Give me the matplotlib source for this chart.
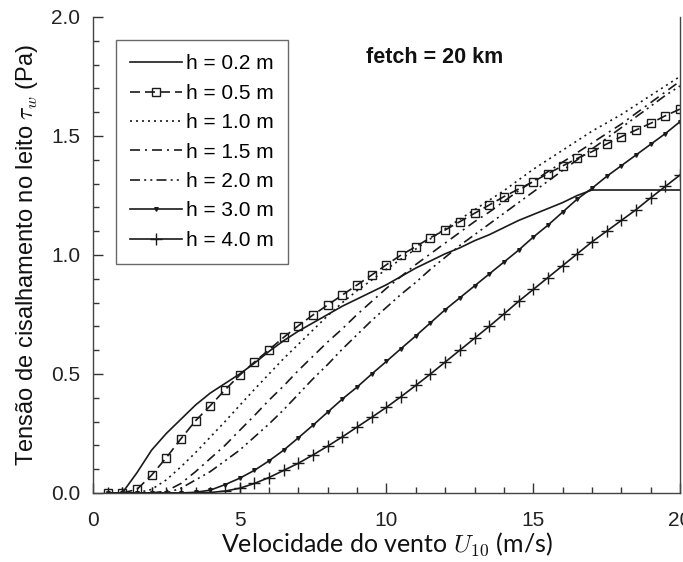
import numpy as np
import matplotlib
matplotlib.use("Agg")
import matplotlib.pyplot as plt
from matplotlib.ticker import MultipleLocator

plt.rcParams['mathtext.fontset'] = 'cm'

U = [0.5, 1.0, 1.5, 2.0, 2.5, 3.0, 3.5, 4.0, 4.5, 5.0, 5.5, 6.0, 6.5, 7.0, 7.5, 8.0,
     8.5, 9.0, 9.5, 10.0, 10.5, 11.0, 11.5, 12.0, 12.5, 13.0, 13.5, 14.0, 14.5, 15.0,
     15.5, 16.0, 16.5, 17.0, 17.5, 18.0, 18.5, 19.0, 19.5, 20.0]

tau_h02 = [0, 0, 0.085, 0.18, 0.25, 0.31, 0.37, 0.42, 0.46, 0.50, 0.545, 0.595, 0.64,
           0.68, 0.715, 0.75, 0.785, 0.815, 0.845, 0.875, 0.91, 0.945, 0.975, 1.005,
           1.03, 1.06, 1.085, 1.115, 1.145, 1.17, 1.195, 1.22, 1.25, 1.273, 1.273,
           1.273, 1.273, 1.273, 1.273, 1.273]
tau_h05 = [0, 0, 0.015, 0.075, 0.148, 0.228, 0.304, 0.367, 0.433, 0.495, 0.55, 0.602,
           0.654, 0.703, 0.748, 0.79, 0.832, 0.874, 0.916, 0.959, 1.0, 1.035, 1.073,
           1.105, 1.14, 1.175, 1.21, 1.245, 1.277, 1.308, 1.342, 1.374, 1.406, 1.434,
           1.466, 1.497, 1.525, 1.553, 1.585, 1.613]
tau_h10 = [0, 0, 0, 0.015, 0.055, 0.11, 0.17, 0.235, 0.30, 0.368, 0.435, 0.50, 0.565,
           0.625, 0.685, 0.745, 0.80, 0.85, 0.895, 0.94, 0.983, 1.025, 1.068, 1.11,
           1.15, 1.19, 1.23, 1.27, 1.315, 1.36, 1.40, 1.44, 1.48, 1.52, 1.555, 1.59,
           1.63, 1.67, 1.71, 1.75]
tau_h15 = [0, 0, 0, 0, 0.008, 0.04, 0.09, 0.145, 0.20, 0.263, 0.325, 0.39, 0.45,
           0.515, 0.575, 0.635, 0.69, 0.75, 0.805, 0.86, 0.91, 0.96, 1.005, 1.05,
           1.095, 1.14, 1.18, 1.225, 1.27, 1.31, 1.35, 1.39, 1.43, 1.47, 1.51, 1.55,
           1.595, 1.64, 1.685, 1.73]
tau_h20 = [0, 0, 0, 0, 0, 0.02, 0.055, 0.09, 0.135, 0.18, 0.235, 0.29, 0.35, 0.415,
           0.48, 0.54, 0.605, 0.665, 0.725, 0.78, 0.835, 0.885, 0.94, 0.99, 1.04,
           1.085, 1.13, 1.175, 1.22, 1.265, 1.31, 1.355, 1.40, 1.445, 1.49, 1.535,
           1.58, 1.625, 1.67, 1.71]
tau_h30 = [0, 0, 0, 0, 0, 0, 0.003, 0.012, 0.035, 0.062, 0.095, 0.135, 0.18, 0.232,
           0.285, 0.34, 0.395, 0.445, 0.50, 0.553, 0.607, 0.66, 0.715, 0.77, 0.82,
           0.87, 0.92, 0.97, 1.02, 1.075, 1.125, 1.18, 1.235, 1.28, 1.33, 1.375, 1.42,
           1.465, 1.51, 1.56]
tau_h40 = [0, 0, 0, 0, 0, 0, 0, 0.002, 0.008, 0.02, 0.04, 0.065, 0.095, 0.125, 0.16,
           0.197, 0.236, 0.277, 0.318, 0.36, 0.405, 0.452, 0.50, 0.55, 0.60, 0.65,
           0.70, 0.752, 0.805, 0.855, 0.905, 0.955, 1.005, 1.055, 1.10, 1.145, 1.19,
           1.24, 1.288, 1.336]

labels = ["h = 0.2 m", "h = 0.5 m", "h = 1.0 m", "h = 1.5 m", "h = 2.0 m",
          "h = 3.0 m", "h = 4.0 m"]
xticks = [0, 5, 10, 15, 20]
yticks = [0.0, 0.5, 1.0, 1.5, 2.0]

fig = plt.figure(figsize=(6.83, 5.62), dpi=100)
ax = fig.add_axes([0.136, 0.1228, 0.8596, 0.847])

c = '#1a1a1a'
lw = 1.2
ax.plot(U, tau_h02, color=c, lw=lw, ls='-', label=labels[0])
ax.plot(U, tau_h05, color=c, lw=lw, ls=(0, (6, 3)), marker='s', ms=5.5,
        mfc='none', mec=c, mew=1.0, label=labels[1])
ax.plot(U, tau_h10, color=c, lw=lw, ls=(0, (1.2, 2.4)), label=labels[2])
ax.plot(U, tau_h15, color=c, lw=lw, ls=(0, (6, 3, 1.2, 3)), label=labels[3])
ax.plot(U, tau_h20, color=c, lw=lw, ls=(0, (6, 2.5, 1.2, 2.5, 1.2, 2.5)), label=labels[4])
ax.plot(U, tau_h30, color=c, lw=lw, ls='-', marker='v', ms=2.6, mfc=c, mec=c,
        label=labels[5])
ax.plot(U, tau_h40, color=c, lw=lw, ls='-', marker='+', ms=8, mew=1.0, mec=c,
        label=labels[6])

ax.set_xlim(0, 20)
ax.set_ylim(0, 2.0)
ax.set_xticks(xticks)
ax.set_yticks(yticks)
ax.set_xticklabels([str(t) for t in xticks])
ax.set_yticklabels([f"{t:.1f}" for t in yticks])
ax.xaxis.set_minor_locator(MultipleLocator(1))
ax.yaxis.set_minor_locator(MultipleLocator(0.1))
ax.tick_params(which='both', direction='in', top=False, right=False,
               colors='#333333', labelcolor='#222222')
ax.tick_params(which='major', length=7, width=1, labelsize=15)
ax.tick_params(axis='x', which='major', pad=13)
ax.tick_params(axis='y', which='major', pad=9)
ax.tick_params(which='minor', length=4, width=1)
for lab in ax.get_xticklabels() + ax.get_yticklabels():
    lab.set_family('Liberation Sans')
for name, s in ax.spines.items():
    s.set_color('#444444')
    s.set_linewidth(1.0)
ax.spines['top'].set_visible(False)

ax.set_xlabel(r"Velocidade do vento $U_{10}$ (m/s)", fontsize=18, family='Lato',
              color='#111111', labelpad=0)
ax.set_ylabel(r"Tensão de cisalhamento no leito $\tau_w$ (Pa)", fontsize=17,
              family='Liberation Sans', color='#111111', labelpad=8)

ax.text(11.65, 1.83, "fetch = 20 km", fontsize=15.5, fontweight='bold',
        family='Liberation Sans', ha='center', va='center', color='#111111')

leg = ax.legend(loc='upper left', bbox_to_anchor=(0.039, 0.952), borderaxespad=0,
                fancybox=False, frameon=True, edgecolor='#444444',
                handlelength=2.5, handletextpad=0.15, labelspacing=0.5,
                borderpad=0.7, numpoints=1,
                prop={'family': 'Liberation Sans', 'size': 15})
leg.get_frame().set_linewidth(1.0)

fig.savefig("out.png", dpi=100)
